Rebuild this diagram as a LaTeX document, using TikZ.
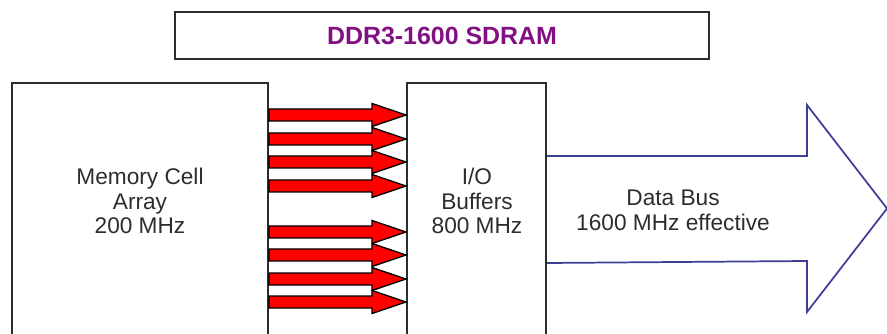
\documentclass[tikz,border=0pt]{standalone}
\usepackage{fontspec}
\setmainfont{Liberation Sans}
\usepackage{xcolor}
\usepackage{tikz}
\usetikzlibrary{calc}
\definecolor{ddrpurple}{RGB}{130,16,130}
\definecolor{ddrblue}{RGB}{62,62,150}
\definecolor{ddrgray}{RGB}{45,45,45}
\newcommand{\px}{0.75pt}
\tikzset{
    ddrtitle/.style={draw=ddrgray, line width=1.7pt, minimum width=534*\px, minimum height=47*\px, inner sep=0pt,
        font=\fontsize{18.7}{20}\selectfont\bfseries, text=ddrpurple},
    ddrblock/.style={draw=ddrgray, line width=1.5pt, minimum height=260*\px, inner sep=0pt, anchor=north},
    ddrtext/.style={align=center, text=ddrgray, font=\fontsize{17}{18.6}\selectfont},
    ddrlane/.style={draw=black, line width=1pt, fill=red, line join=miter},
    ddrbus/.style={draw=ddrblue, line width=1.3pt, line join=miter}
}

\begin{document}
\begin{tikzpicture}[x=0.75pt, y=-0.75pt]
    \useasboundingbox (0,0) rectangle (887,334);
    \clip (0,0) rectangle (887,334);

    \node[ddrtitle] (title) at (442,35.5) {DDR3-1600 SDRAM};
    \node[ddrblock, minimum width=256*\px] (mem) at (140,82) {};
    \node[ddrblock, minimum width=139*\px] (io) at (476.5,82) {};
    \node[ddrtext] (memlabel) at (140,201) {Memory Cell\\Array\\200 MHz};
    \node[ddrtext] (iolabel) at (477,201) {I/O\\Buffers\\800 MHz};

    \foreach \yy in {115,139,162,186,232,255,279,302} {
        \draw[ddrlane] ($(mem.east|-0,\yy)+(0,-6)$) -- ($(io.west|-0,\yy)+(-34,-6)$) -- ++(0,-5.5)
            -- (io.west|-0,\yy) -- ++(-34,11.5) -- ++(0,-5.5) -- ($(mem.east|-0,\yy)+(0,6)$) -- cycle;
    }

    \draw[ddrbus] (io.east|-0,156) -- ++(260,0) -- ++(0,-51) -- ++(80,103.5) -- ++(-80,103.5)
        -- ++(0,-51) -- (io.east|-0,263);
    \node[ddrtext] (buslabel) at (673,210) {Data Bus\\1600 MHz effective};
\end{tikzpicture}
\end{document}
